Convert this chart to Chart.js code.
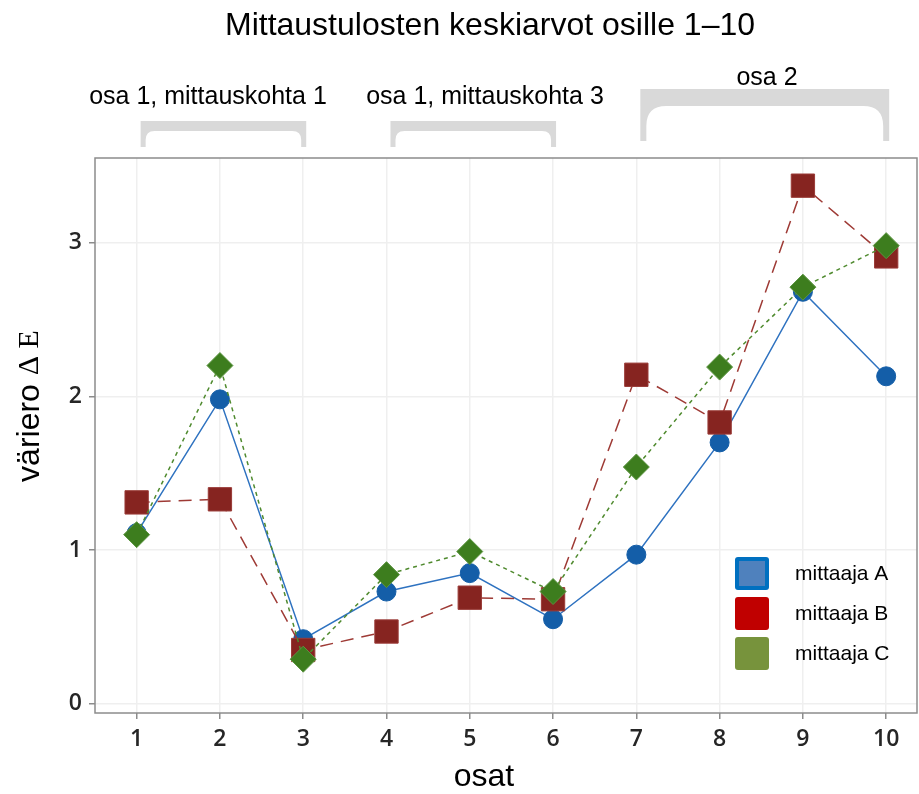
<!DOCTYPE html>
<html>
<head>
<meta charset="utf-8">
<script src="https://cdn.jsdelivr.net/npm/chart.js@4.4.1/dist/chart.umd.min.js"></script>
<style>
html, body { margin: 0; padding: 0; background: #fff; overflow: hidden; }
canvas { display: block; }
</style>
</head>
<body>
<canvas id="meanChart" width="919" height="794"></canvas>
<script>
// osat 1-10 ja kolmen mittaajan keskiarvot
const parts = [1, 2, 3, 4, 5, 6, 7, 8, 9, 10];
const measurerA = [1.11, 1.98, 0.42, 0.73, 0.85, 0.55, 0.97, 1.70, 2.68, 2.13];
const measurerB = [1.31, 1.33, 0.35, 0.47, 0.69, 0.68, 2.14, 1.83, 3.37, 2.91];
const measurerC = [1.10, 2.20, 0.29, 0.84, 0.99, 0.73, 1.54, 2.19, 2.71, 2.98];
const yTicks = [0, 1, 2, 3];

const groupNames = ["osa 1, mittauskohta 1", "osa 1, mittauskohta 3", "osa 2"];
const groupStart = [1, 4, 7];
const groupEnd = [3, 6, 10];

const textFont = "'Liberation Sans', Arial, sans-serif";
const tickFont = "'Open Sans', 'Noto Sans', sans-serif";

function points(values){
    return parts.map((p, i) => ({ x: p, y: values[i] }));
}

// hakasulkeet ryhmille
const bracketStyle = [
    { top: 121, bar: 10, bottom: 147, leg: 5, r: 9, labelX: 208, labelY: 97 },
    { top: 121, bar: 10, bottom: 147, leg: 5, r: 9, labelX: 485, labelY: 97 },
    { top: 89, bar: 17, bottom: 141, leg: 6, r: 20, labelX: 767, labelY: 78 }
];

function drawBracket(ctx, x0, x1, s){
    const inner = s.top + s.bar;
    ctx.beginPath();
    ctx.moveTo(x0, s.bottom);
    ctx.lineTo(x0, s.top);
    ctx.lineTo(x1, s.top);
    ctx.lineTo(x1, s.bottom);
    ctx.lineTo(x1 - s.leg, s.bottom);
    ctx.lineTo(x1 - s.leg, inner + s.r);
    ctx.quadraticCurveTo(x1 - s.leg, inner, x1 - s.leg - s.r, inner);
    ctx.lineTo(x0 + s.leg + s.r, inner);
    ctx.quadraticCurveTo(x0 + s.leg, inner, x0 + s.leg, inner + s.r);
    ctx.lineTo(x0 + s.leg, s.bottom);
    ctx.closePath();
    ctx.fill();
}

const decorations = {
    id: "decorations",
    afterDraw(chart){
        const ctx = chart.ctx;
        const area = chart.chartArea;
        const xs = chart.scales.x;

        ctx.save();

        // kehys
        ctx.strokeStyle = "#8c8c8c";
        ctx.lineWidth = 1.5;
        ctx.strokeRect(area.left, area.top, area.right - area.left, area.bottom - area.top);

        // otsikko
        ctx.fillStyle = "#000";
        ctx.textAlign = "center";
        ctx.textBaseline = "middle";
        ctx.font = "32px " + textFont;
        ctx.fillText("Mittaustulosten keskiarvot osille 1\u201310", 490, 26);

        // ryhmät
        groupNames.forEach((name, i) => {
            const s = bracketStyle[i];
            const x0 = xs.getPixelForValue(groupStart[i]) + 4;
            const x1 = xs.getPixelForValue(groupEnd[i]) + 3;
            ctx.fillStyle = "#d9d9d9";
            drawBracket(ctx, x0, x1, s);
            ctx.fillStyle = "#000";
            ctx.font = "25px " + textFont;
            ctx.fillText(name, s.labelX, s.labelY);
        });

        // x-akselin nimi
        ctx.font = "32px " + textFont;
        ctx.fillText("osat", 484, 777);

        // y-akselin nimi: väriero + ΔE serif-fontilla
        ctx.translate(30, 406);
        ctx.rotate(-Math.PI / 2);
        ctx.textAlign = "left";
        const part1 = "väriero ";
        const part2 = "\u0394 E";
        const serif = "30px 'Liberation Serif', 'DejaVu Serif', serif";
        ctx.font = "32px " + textFont;
        const w1 = ctx.measureText(part1).width;
        ctx.font = serif;
        const w2 = ctx.measureText(part2).width;
        const start = -(w1 + w2) / 2;
        ctx.font = "32px " + textFont;
        ctx.fillText(part1, start, 0);
        ctx.font = serif;
        ctx.fillText(part2, start + w1, 0);
        ctx.setTransform(1, 0, 0, 1, 0, 0);

        // selite
        const legend = [
            { name: "mittaaja A", fill: "#4f81bd", border: "#0070c0" },
            { name: "mittaaja B", fill: "#c00000", border: "#c00000" },
            { name: "mittaaja C", fill: "#77933c", border: "#77933c" }
        ];
        legend.forEach((item, i) => {
            const y = 557 + i * 40;
            ctx.fillStyle = item.border;
            ctx.beginPath();
            ctx.roundRect(735, y, 34, 33, 3);
            ctx.fill();
            if (item.fill !== item.border){
                ctx.fillStyle = item.fill;
                ctx.fillRect(739, y + 4, 26, 25);
            }
            ctx.fillStyle = "#000";
            ctx.textAlign = "left";
            ctx.textBaseline = "middle";
            ctx.font = "21px " + textFont;
            ctx.fillText(item.name, 795, y + 17);
        });

        ctx.restore();
    }
};

function drawMeans(){

    new Chart(

        document.getElementById("meanChart"),

        {
            type: "line",

            data: {
                datasets: [
                    {
                        label: "mittaaja A",
                        data: points(measurerA),
                        order: 2,
                        borderColor: "#2e72c0",
                        borderWidth: 1.5,
                        pointStyle: "circle",
                        pointRadius: 9.5,
                        pointBackgroundColor: "#145ea8",
                        pointBorderColor: "#145ea8",
                        pointBorderWidth: 1
                    },
                    {
                        label: "mittaaja B",
                        data: points(measurerB),
                        order: 1,
                        borderColor: "#9e3a35",
                        borderWidth: 1.5,
                        borderDash: [13, 8],
                        pointStyle: "rect",
                        pointRadius: 16.5,
                        pointBackgroundColor: "#862420",
                        pointBorderColor: "#9a3b37",
                        pointBorderWidth: 1
                    },
                    {
                        label: "mittaaja C",
                        data: points(measurerC),
                        order: 0,
                        borderColor: "#4f8a2e",
                        borderWidth: 1.5,
                        borderDash: [4, 4],
                        pointStyle: "rectRot",
                        pointRadius: 13,
                        pointBackgroundColor: "#3d7d1e",
                        pointBorderColor: "#5b9440",
                        pointBorderWidth: 1
                    }
                ]
            },

            options: {
                responsive: false,
                animation: false,
                devicePixelRatio: 1,
                layout: {
                    autoPadding: false,
                    padding: { top: 158, right: 2, left: 0, bottom: 0 }
                },
                plugins: {
                    legend: { display: false },
                    tooltip: { enabled: false }
                },
                scales: {
                    x: {
                        type: "linear",
                        min: 0.5,
                        max: 10.37,
                        afterBuildTicks: s => { s.ticks = parts.map(v => ({ value: v })); },
                        afterFit: s => { s.height = 81; },
                        border: { display: false },
                        grid: {
                            color: "#efefef",
                            lineWidth: 1.5,
                            tickColor: "#8c8c8c",
                            tickLength: 6
                        },
                        ticks: {
                            color: "#262626",
                            padding: 7,
                            font: { family: tickFont, size: 23, weight: "600" }
                        }
                    },
                    y: {
                        min: -0.06,
                        max: 3.55,
                        afterBuildTicks: s => { s.ticks = yTicks.map(v => ({ value: v })); },
                        afterFit: s => { s.width = 95; },
                        border: { display: false },
                        grid: {
                            color: "#efefef",
                            lineWidth: 1.5,
                            tickColor: "#8c8c8c",
                            tickLength: 6
                        },
                        ticks: {
                            color: "#262626",
                            padding: 7,
                            font: { family: tickFont, size: 23, weight: "600" }
                        }
                    }
                }
            },

            plugins: [decorations]
        }

    );

}

window.addEventListener("DOMContentLoaded", drawMeans);
</script>
</body>
</html>
